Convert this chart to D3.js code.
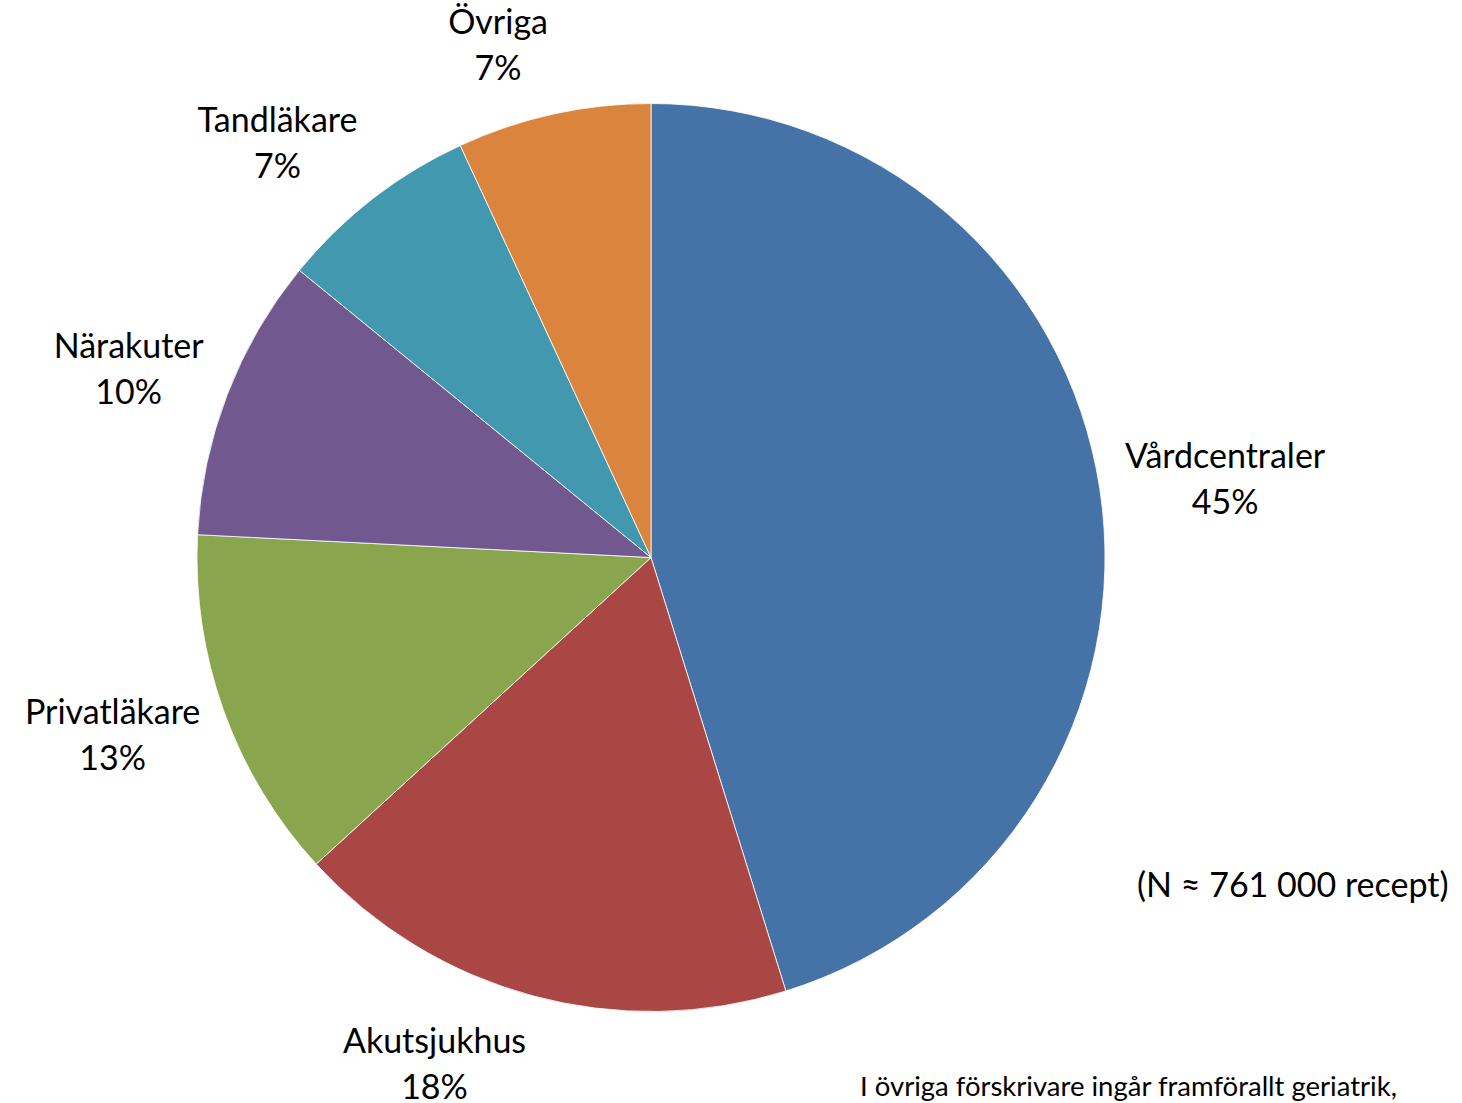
<!DOCTYPE html>
<html><head><meta charset="utf-8">
<script src="https://cdn.jsdelivr.net/npm/d3@7"></script>
<style>body{margin:0;background:#fff;} svg{display:block;} text{font-family:Lato,"Open Sans",sans-serif;fill:#000;}</style>
</head><body>
<svg id="c" width="1462" height="1103"></svg>
<script>
const categories = ["Vårdcentraler","Akutsjukhus","Privatläkare","Närakuter","Tandläkare","Övriga"];
const values = [45.2, 18.0, 12.6, 10.1, 7.2, 6.9];
const colors = ["#4572A7","#AA4643","#89A54E","#71588F","#4198AF","#DB843D"];
const note = "(N ≈ 761 000 recept)";
const footnote = "I övriga förskrivare ingår framförallt geriatrik,";

const svg = d3.select("#c");
const cx = 651, cy = 557.5, R = 454, fs = 34, lineH = 46, gap = 25;
const total = d3.sum(values);
const pie = d3.pie().sort(null).value(d => d)(values);
const arc = d3.arc().innerRadius(0).outerRadius(R);
const g = svg.append("g").attr("transform", `translate(${cx},${cy})`);
g.selectAll("path").data(pie).join("path")
  .attr("d", arc).attr("fill", (d,i) => colors[i])
  .attr("stroke", "#fff").attr("stroke-width", 0.8);

pie.forEach((d,i) => {
  const a = (d.startAngle + d.endAngle) / 2;
  const s = Math.sin(a), c = Math.cos(a);
  const t = g.append("text").attr("text-anchor","middle").style("font-size", fs+"px");
  t.append("tspan").attr("x",0).attr("dy",0).text(categories[i]);
  t.append("tspan").attr("x",0).attr("dy",lineH).text(Math.round(values[i]/total*100) + "%");
  const w = t.node().getBBox().width, h = lineH*2;
  const px = (R+gap)*s, py = -(R+gap)*c;
  const x = px + Math.sign(s)*w/2, y = py - c*h/2;
  t.attr("transform", `translate(${x},${y - lineH/2 + 12})`);
});

svg.append("text").attr("x",1137).attr("y",897).style("font-size", fs+"px").text(note);
svg.append("text").attr("x",860).attr("y",1096).style("font-size","27.5px").text(footnote);
</script>
</body></html>
